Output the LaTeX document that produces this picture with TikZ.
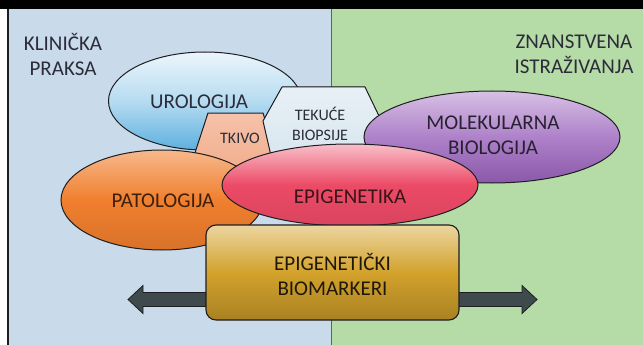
\documentclass[tikz,border=0pt]{standalone}
\usepackage{fontspec}
\setmainfont{Carlito}
\usetikzlibrary{shapes.geometric,calc}
\definecolor{panelblue}{HTML}{C9DAEA}
\definecolor{panelgreen}{HTML}{B5DBA6}
\definecolor{outl}{HTML}{1E1E22}
\definecolor{txtc}{HTML}{2C2C3A}
\definecolor{uroC}{HTML}{5DB0DF}
\definecolor{patC}{HTML}{F07F2E}
\definecolor{epiC}{HTML}{EC4A66}
\definecolor{molC}{HTML}{9A62BC}
\definecolor{tkC}{HTML}{F2AE8E}
\definecolor{tekC}{HTML}{D8E6EF}
\definecolor{boxC}{HTML}{D3A22C}
\definecolor{arrC}{HTML}{3E4A4C}
\tikzset{
  blob/.style={ellipse, draw=outl, line width=1pt, inner sep=0pt},
  bigtxt/.style={font=\fontsize{21}{25}\selectfont, text=txtc, align=center, inner sep=0pt},
  smalltxt/.style={font=\fontsize{16}{20}\selectfont, text=txtc, align=center, inner sep=0pt},
  polyshape/.style={draw=outl, line width=1pt, line join=round},
}
\begin{document}
\begin{tikzpicture}[x=1pt,y=-1pt]
\useasboundingbox (0,0) rectangle (643,345);
% background and panels
\fill[white] (0,0) rectangle (643,345);
\fill[black] (0,0) rectangle (643,9);
\fill[panelblue] (8,9) rectangle (331,345);
\fill[panelgreen] (331,9) rectangle (643,345);
\draw[outl, line width=1.2pt] (8,9) -- (8,345);
\draw[outl!70, line width=0.9pt] (331,9) -- (331,345);
% panel titles
\node[bigtxt] (klin) at (63,54) {KLINIČKA\\PRAKSA};
\node[bigtxt] (znan) at (574,54) {ZNANSTVENA\\ISTRAŽIVANJA};
% urologija
\node[blob, minimum width=193, minimum height=98,
      top color=uroC!12!white, bottom color=uroC, middle color=uroC!45!white] (uro) at (205,101) {};
\node[bigtxt] (uroT) at (199,102) {UROLOGIJA};
% tkivo
\filldraw[polyshape, top color=tkC!75!white, bottom color=tkC] (208,113) -- (263,113) -- (280,168) -- (190,168) -- cycle;
\node[smalltxt, text=txtc] (tkT) at (240,138) {TKIVO};
% tekuce biopsije
\filldraw[polyshape, top color=tekC!60!white, bottom color=tekC] (282,87) -- (365,87) -- (379,116) -- (368,160) -- (272,160) -- (263,121) -- cycle;
\node[smalltxt] (tekT) at (320,124) {TEKUĆE\\BIOPSIJE};
% molekularna biologija
\node[blob, minimum width=256, minimum height=92,
      top color=molC!40!white, bottom color=molC!90!black, middle color=molC!80!white] (mol) at (492,137) {};
\node[bigtxt, text=txtc!80!molC!60!black] (molT) at (493,135) {MOLEKULARNA\\BIOLOGIJA};
% patologija
\node[blob, minimum width=202, minimum height=100,
      top color=patC!55!white, bottom color=patC!90!black, middle color=patC] (pat) at (162,200) {};
\node[bigtxt, text=patC!25!black] (patT) at (163,201) {PATOLOGIJA};
% epigenetika
\node[blob, minimum width=256, minimum height=82,
      top color=epiC!35!white, bottom color=epiC!92!black, middle color=epiC] (epi) at (350,185) {};
\node[bigtxt, text=epiC!25!black] (epiT) at (350,197) {EPIGENETIKA};
% double arrow
\coordinate (arL) at (128,299.5);
\coordinate (arR) at (537,299.5);
\filldraw[draw=outl, fill=arrC, line width=0.8pt, line join=miter]
  (arL) -- ($(arL)+(15,-14)$) -- ($(arL)+(15,-7)$) -- ($(arR)+(-15,-7)$) -- ($(arR)+(-15,-14)$)
  -- (arR) -- ($(arR)+(-15,14)$) -- ($(arR)+(-15,7)$) -- ($(arL)+(15,7)$) -- ($(arL)+(15,14)$) -- cycle;
% biomarker box
\node[draw=outl, line width=1.1pt, rounded corners=10pt, minimum width=253, minimum height=95,
      top color=boxC!45!white, bottom color=boxC!80!black, middle color=boxC, inner sep=0pt] (box) at (332.5,272.5) {};
\node[bigtxt, text=boxC!15!black] (boxT) at (332.5,274) {EPIGENETIČKI\\BIOMARKERI};
\end{tikzpicture}
\end{document}
